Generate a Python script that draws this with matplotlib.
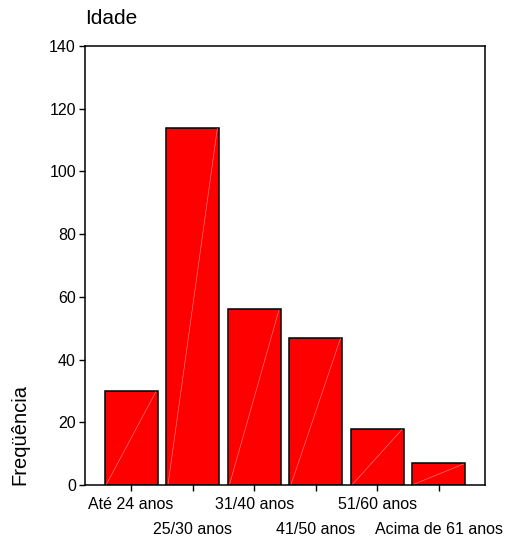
import matplotlib
matplotlib.use('Agg')
import matplotlib.pyplot as plt

plt.rcParams['font.family'] = ['Liberation Sans', 'DejaVu Sans']

categories = ['Até 24 anos', '25/30 anos', '31/40 anos', '41/50 anos',
              '51/60 anos', 'Acima de 61 anos']
frequencies = [30, 114, 56, 47, 18, 7]


def main():
    fig = plt.figure(figsize=(5.09, 5.41), dpi=100)
    ax = fig.add_axes([0.167, 0.1035, 0.786, 0.8115])

    x = list(range(len(categories)))
    width = 0.86
    ax.bar(x, frequencies, width=width, color='#ff0000',
           edgecolor='black', linewidth=1.1, zorder=2)

    # faint diagonal line inside each bar (like the original export)
    for xi, val in zip(x, frequencies):
        ax.plot([xi - width / 2 + 0.03, xi + width / 2 - 0.03], [0.3, val - 0.3],
                color='#ff9090', linewidth=0.4, zorder=3)

    ax.set_xlim(-0.75, len(categories) - 0.25)
    ax.set_ylim(0, 140)
    ax.set_yticks(range(0, 141, 20))
    ax.set_xticks(x)
    ax.set_xticklabels(categories)

    for spine in ax.spines.values():
        spine.set_linewidth(1.1)

    ax.tick_params(axis='both', direction='out', length=4.5, width=1,
                   labelsize=11.5)
    ax.tick_params(axis='y', pad=2)
    for i, tick in enumerate(ax.xaxis.get_major_ticks()):
        tick.set_pad(4 if i % 2 == 0 else 22)

    ax.set_title('Idade', loc='left', fontsize=15, pad=16)
    ax.set_ylabel('Freqüência', fontsize=14.5, loc='bottom')
    ax.yaxis.set_label_coords(-0.14, 0)

    fig.savefig('out.png', dpi=100)


if __name__ == '__main__':
    main()
